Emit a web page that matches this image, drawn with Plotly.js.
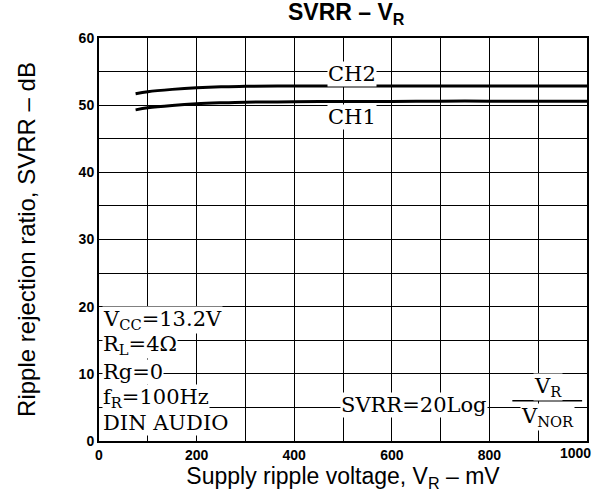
<!DOCTYPE html>
<html><head><meta charset="utf-8">
<script src="https://cdn.plot.ly/plotly-3.0.1.min.js"></script>
<style>html,body{margin:0;padding:0;background:#fff}</style>
</head><body>
<div id="chart" style="width:599px;height:492px"></div>
<script>
const rippleMV = [75, 100, 150, 200, 250, 300, 400, 500, 600, 700, 800, 900, 1000];
const ch2 = [51.7, 52.0, 52.35, 52.6, 52.75, 52.8, 52.85, 52.85, 52.85, 52.85, 52.85, 52.85, 52.85];
const ch1 = [49.3, 49.6, 49.95, 50.2, 50.35, 50.45, 50.5, 50.55, 50.55, 50.6, 50.6, 50.6, 50.6];
const xTicks = [0, 200, 400, 600, 800];
const xLastTick = 1000;
const yTicks = [0, 10, 20, 30, 40, 50, 60];

const serif = {family: 'DejaVu Serif, Liberation Serif, serif', size: 21, color: '#000'};
const tickFont = {family: 'Liberation Sans Narrow, Arial Narrow, Arial, sans-serif', size: 14, color: '#000', weight: 'bold'};
const trace = (y, name) => ({x: rippleMV, y: y, name: name, mode: 'lines', line: {color: '#000', width: 3, shape: 'spline'}, hoverinfo: 'skip'});

const condList = ['V<sub>CC</sub>=13.2V', 'R<sub>L</sub>=4Ω', 'Rg=0', 'f<sub>R</sub>=100Hz', 'DIN AUDIO'];
const condY = [18.0, 14.3, 10.3, 6.4, 2.7];

const annotations = [
  {x: 518, y: 54.7, text: 'CH2', showarrow: false, font: serif, bgcolor: '#fff', borderpad: 0},
  {x: 518, y: 48.2, text: 'CH1', showarrow: false, font: serif, bgcolor: '#fff', borderpad: 0},
  {x: 645, y: 5.3, text: 'SVRR=20Log', showarrow: false, font: serif, bgcolor: '#fff', xanchor: 'center', borderpad: 0},
  {x: 920, y: 8.0, text: 'V<sub>R</sub>', showarrow: false, font: serif, bgcolor: '#fff', borderpad: 0},
  {x: 920, y: 3.6, text: 'V<sub>NOR</sub>', showarrow: false, font: serif, bgcolor: '#fff', borderpad: 0},
  {x: xLastTick, y: 0, yref: 'paper', text: String(xLastTick), showarrow: false, font: tickFont, xanchor: 'center', yanchor: 'top', xshift: -12, yshift: -2}
];
condList.forEach((t, i) => annotations.push({x: 6, y: condY[i], text: t, showarrow: false, font: serif, bgcolor: '#fff', xanchor: 'left', borderpad: 0}));

const layout = {
  width: 599, height: 492,
  margin: {l: 99, r: 12, t: 38, b: 51},
  paper_bgcolor: '#fff', plot_bgcolor: '#fff',
  showlegend: false,
  title: {text: '<b>SVRR – V<sub>R</sub></b>', font: {family: 'Arial, Liberation Sans, sans-serif', size: 23, color: '#000'}, x: 0.578, xanchor: 'center', y: 0.992, yanchor: 'top'},
  xaxis: {
    range: [0, 1000], tickvals: xTicks, ticktext: xTicks.map(String),
    showgrid: true, gridcolor: '#000', gridwidth: 1,
    minor: {dtick: 100, showgrid: true, gridcolor: '#000', gridwidth: 1},
    showline: true, linecolor: '#000', linewidth: 2, mirror: true,
    zeroline: false, ticks: '', ticklen: 0,
    tickfont: tickFont,
    title: {text: 'Supply ripple voltage, V<sub>R</sub> – mV', font: {family: 'Arial, Liberation Sans, sans-serif', size: 23, color: '#000'}, standoff: 2}
  },
  yaxis: {
    range: [0, 60], tickvals: yTicks, ticktext: yTicks.map(String),
    showgrid: true, gridcolor: '#000', gridwidth: 1,
    minor: {dtick: 5, showgrid: true, gridcolor: '#000', gridwidth: 1},
    showline: true, linecolor: '#000', linewidth: 2, mirror: true,
    zeroline: false, ticks: '', ticklen: 0,
    tickfont: tickFont,
    title: {text: 'Ripple rejection ratio, SVRR – dB', font: {family: 'Arial, Liberation Sans, sans-serif', size: 24, color: '#000'}, standoff: 36}
  },
  shapes: [
    {type: 'line', xref: 'x', yref: 'y', x0: 847, x1: 990, y0: 6.0, y1: 6.0, line: {color: '#000', width: 1.5}}
  ],
  annotations: annotations
};

Plotly.newPlot('chart', [trace(ch2, 'CH2'), trace(ch1, 'CH1')], layout, {displayModeBar: false, staticPlot: true});
</script>
</body></html>
